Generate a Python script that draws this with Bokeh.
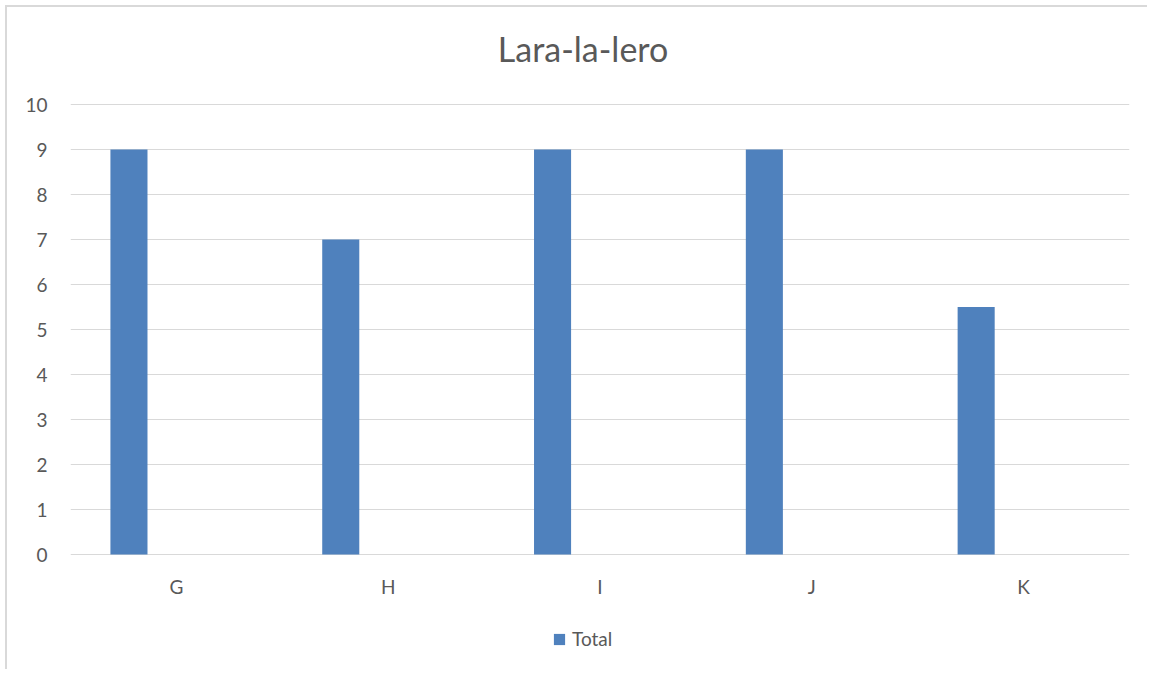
from bokeh.plotting import figure
from bokeh.models import FactorRange, Range1d, Legend, LegendItem, ColumnDataSource, Label
from bokeh.transform import dodge
from bokeh.core.properties import value
from bokeh.embed import file_html
from bokeh.resources import INLINE

categories = ["G", "H", "I", "J", "K"]
totals = [9, 7, 9, 9, 5.5]
y_ticks = [0, 1, 2, 3, 4, 5, 6, 7, 8, 9, 10]
title_text = "Lara-la-lero"
legend_label = "Total"

FONT = "Lato"
TXT = "#595959"
GRID = "#d9d9d9"
BAR = "#4f81bd"

src = ColumnDataSource(data=dict(cat=categories, val=totals))
lab_src = ColumnDataSource(data=dict(cat=categories, y=[-0.71] * len(categories)))

p = figure(
    x_range=FactorRange(*categories),
    y_range=Range1d(-2.6, 12.1556),
    width=1142, height=664,
    output_backend="svg", toolbar_location=None,
    min_border_left=63, min_border_right=20,
    min_border_top=0, min_border_bottom=0,
)
p.margin = (5, 0, 0, 5)
p.styles = {"border-left": "2px solid #d9d9d9", "border-top": "2px solid #d9d9d9"}

r = p.vbar(x=dodge("cat", -0.224, range=p.x_range), top="val", width=0.175,
           source=src, fill_color=BAR, line_color=None)

p.text(x="cat", y="y", text="cat", source=lab_src,
       text_font=value(FONT), text_font_size="19px", text_color=TXT,
       text_align="center", text_baseline="middle")

p.add_layout(Label(x=2.42, y=11.24, text=title_text,
                   text_font=FONT, text_font_size="34px", text_color=TXT,
                   text_align="center", text_baseline="alphabetic"))

p.outline_line_color = None
p.xgrid.grid_line_color = None
p.ygrid.grid_line_color = GRID
p.ygrid.grid_line_width = 1
p.xaxis.visible = False

p.yaxis.ticker = y_ticks
p.yaxis.axis_line_color = None
p.yaxis.major_tick_line_color = None
p.yaxis.minor_tick_line_color = None
p.yaxis.major_tick_out = 0
p.yaxis.major_tick_in = 0
p.yaxis.major_label_text_font = FONT
p.yaxis.major_label_text_font_size = "19px"
p.yaxis.major_label_text_color = TXT
p.yaxis.major_label_standoff = 23

legend = Legend(items=[LegendItem(label=legend_label, renderers=[r])],
                location=(482, 21), orientation="horizontal",
                padding=0, margin=0, border_line_color=None,
                background_fill_alpha=0,
                glyph_width=14, glyph_height=14, label_standoff=6,
                label_text_font=FONT, label_text_font_size="19px",
                label_text_color=TXT)
p.add_layout(legend, "center")

open("out.html", "w").write(file_html(p, INLINE))
